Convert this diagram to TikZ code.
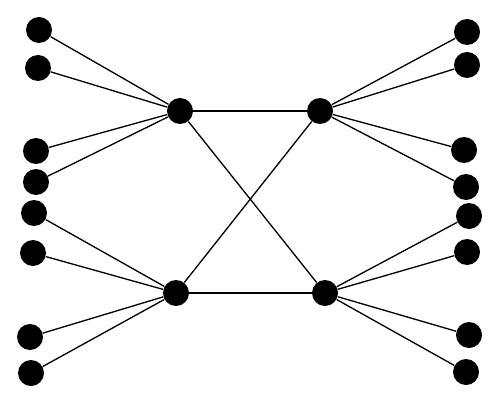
\documentclass[tikz,border=0pt]{standalone}
\usepackage{tikz}
\usetikzlibrary{positioning}
\tikzset{arista/.style={line width=0.75pt}}

\begin{document}
\begin{tikzpicture}[scale = 1, every node/.style={circle, fill=black, minimum size=5.2mm, inner sep=0pt}]
            \useasboundingbox (0,0) rectangle (10,8.08);
            \node (a) at (3.60,5.86) {};
            \node (b) at (6.40,5.86) {};
            \node (c) at (3.52,2.22) {};
            \node (d) at (6.50,2.22) {};

            \node (l1) at (0.78,7.48) {};
            \node (l2) at (0.76,6.72) {};
            \node (l3) at (0.72,5.06) {};
            \node (l4) at (0.72,4.44) {};
            \node (l5) at (0.68,3.82) {};
            \node (l6) at (0.66,3.02) {};
            \node (l7) at (0.60,1.34) {};
            \node (l8) at (0.62,0.62) {};

            \node (r1) at (9.34,7.44) {};
            \node (r2) at (9.34,6.78) {};
            \node (r3) at (9.28,5.08) {};
            \node (r4) at (9.32,4.34) {};
            \node (r5) at (9.38,3.76) {};
            \node (r6) at (9.34,3.04) {};
            \node (r7) at (9.38,1.38) {};
            \node (r8) at (9.32,0.64) {};

            \draw[arista] (a) to (b);
            \draw[arista] (c) to (d);
            \draw[arista] (a) to (d);
            \draw[arista] (b) to (c);

            \draw[arista] (a) to (l1);
            \draw[arista] (a) to (l2);
            \draw[arista] (a) to (l3);
            \draw[arista] (a) to (l4);
            \draw[arista] (c) to (l5);
            \draw[arista] (c) to (l6);
            \draw[arista] (c) to (l7);
            \draw[arista] (c) to (l8);

            \draw[arista] (b) to (r1);
            \draw[arista] (b) to (r2);
            \draw[arista] (b) to (r3);
            \draw[arista] (b) to (r4);
            \draw[arista] (d) to (r5);
            \draw[arista] (d) to (r6);
            \draw[arista] (d) to (r7);
            \draw[arista] (d) to (r8);
        \end{tikzpicture}
\end{document}
